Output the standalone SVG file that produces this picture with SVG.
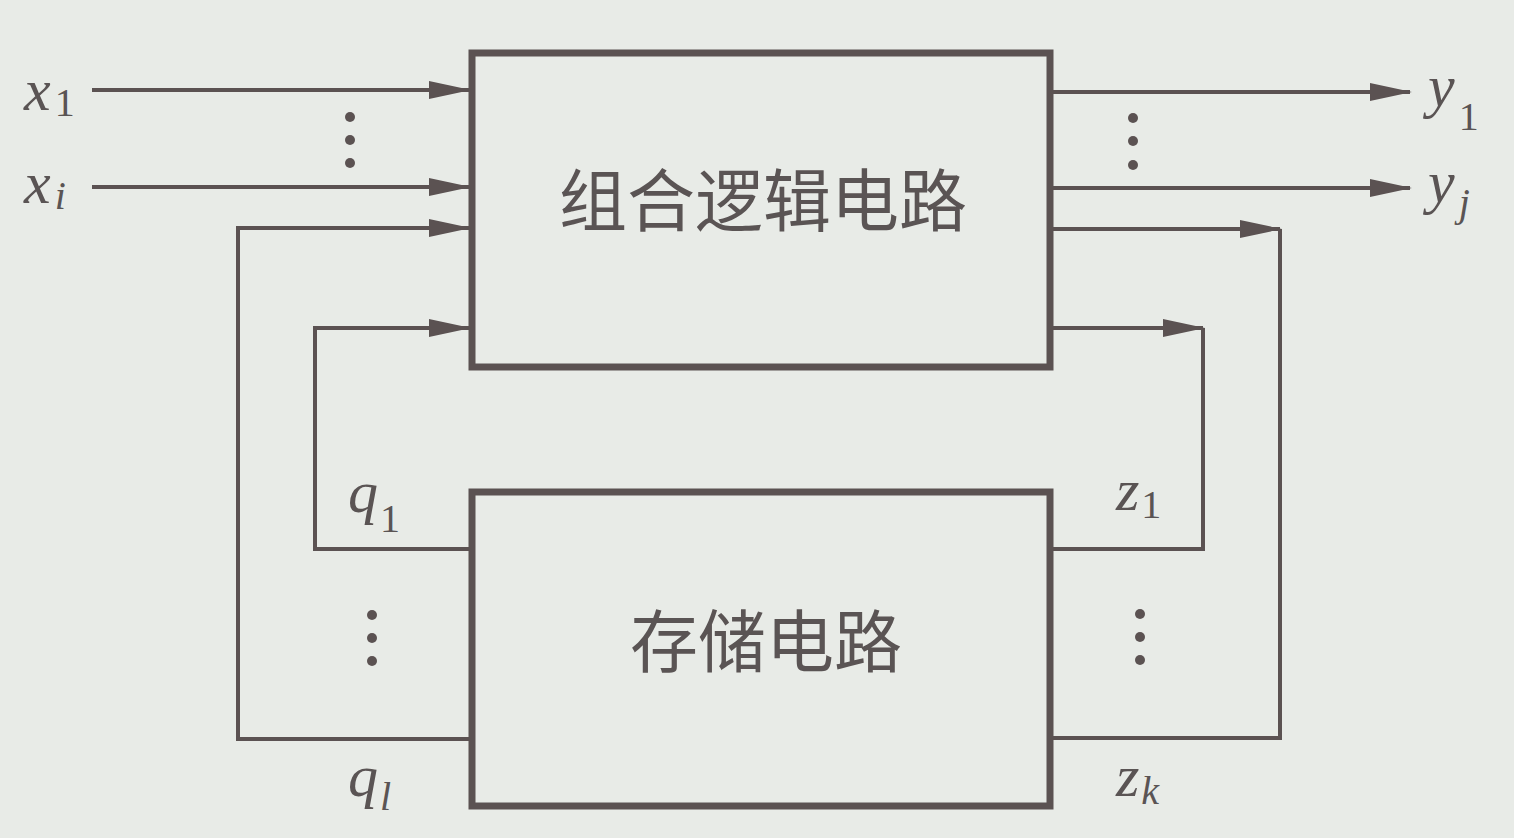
<svg xmlns="http://www.w3.org/2000/svg" width="1514" height="838" viewBox="0 0 1514 838">
<style>
.box{fill:none;stroke:#5b5252;stroke-width:7}
.ln{fill:none;stroke:#5b5252;stroke-width:4}
.cjk{font-family:"Noto Sans CJK SC","Noto Sans",sans-serif;font-size:68px;fill:#5a5454;text-anchor:middle}
.v{font-family:"Liberation Serif",serif;font-style:italic;font-size:60px;fill:#5a5454}
.s{font-family:"Liberation Serif",serif;font-size:40px;fill:#5a5454}
.si{font-family:"Liberation Serif",serif;font-style:italic;font-size:40px;fill:#5a5454}
.dot{fill:#5b5252}
</style>
<defs>
<marker id="ar" markerWidth="42" markerHeight="18" refX="40" refY="9" orient="auto" markerUnits="userSpaceOnUse">
<path d="M0,0 L42,9 L0,18 Z" fill="#5b5252"/>
</marker>
</defs>
<rect width="1514" height="838" fill="#e8ebe7"/>
<g id="comb">
<rect class="box" x="472" y="53" width="578" height="314"/>
<text class="cjk" x="763" y="226">组合逻辑电路</text>
</g>
<g id="mem">
<rect class="box" x="472" y="492" width="578" height="314"/>
<text class="cjk" x="766" y="667">存储电路</text>
</g>
<g id="connectors">
<line class="ln" x1="92" y1="90" x2="469" y2="90" marker-end="url(#ar)"/>
<line class="ln" x1="92" y1="187" x2="469" y2="187" marker-end="url(#ar)"/>
<polyline class="ln" points="472,739 238,739 238,228 469,228" marker-end="url(#ar)"/>
<polyline class="ln" points="472,549 315,549 315,328 469,328" marker-end="url(#ar)"/>
<line class="ln" x1="1050" y1="92" x2="1410" y2="92" marker-end="url(#ar)"/>
<line class="ln" x1="1050" y1="188" x2="1410" y2="188" marker-end="url(#ar)"/>
<line class="ln" x1="1050" y1="229" x2="1280" y2="229" marker-end="url(#ar)"/>
<polyline class="ln" points="1280,229 1280,738 1050,738"/>
<line class="ln" x1="1050" y1="328" x2="1203" y2="328" marker-end="url(#ar)"/>
<polyline class="ln" points="1203,328 1203,549 1050,549"/>
</g>
<g id="dots">
<circle class="dot" cx="350" cy="117" r="5"/><circle class="dot" cx="350" cy="140" r="5"/><circle class="dot" cx="350" cy="163" r="5"/>
<circle class="dot" cx="1133" cy="118" r="5"/><circle class="dot" cx="1133" cy="141" r="5"/><circle class="dot" cx="1133" cy="165" r="5"/>
<circle class="dot" cx="372" cy="615" r="5"/><circle class="dot" cx="372" cy="638" r="5"/><circle class="dot" cx="372" cy="661" r="5"/>
<circle class="dot" cx="1140" cy="614" r="5"/><circle class="dot" cx="1140" cy="637" r="5"/><circle class="dot" cx="1140" cy="660" r="5"/>
</g>
<g id="labels">
<text x="24" y="110"><tspan class="v">x</tspan><tspan class="s" dx="4" dy="6">1</tspan></text>
<text x="24" y="203"><tspan class="v">x</tspan><tspan class="si" dx="4" dy="6">i</tspan></text>
<text x="1428" y="106"><tspan class="v">y</tspan><tspan class="s" dx="4" dy="24">1</tspan></text>
<text x="1428" y="202"><tspan class="v">y</tspan><tspan class="si" dx="4" dy="14">j</tspan></text>
<text x="348" y="512"><tspan class="v">q</tspan><tspan class="s" dx="2" dy="20">1</tspan></text>
<text x="348" y="796"><tspan class="v">q</tspan><tspan class="si" dx="2" dy="14">l</tspan></text>
<text x="1116" y="510"><tspan class="v">z</tspan><tspan class="s" dx="2" dy="8">1</tspan></text>
<text x="1116" y="796"><tspan class="v">z</tspan><tspan class="si" dx="2" dy="8">k</tspan></text>
</g>
</svg>
